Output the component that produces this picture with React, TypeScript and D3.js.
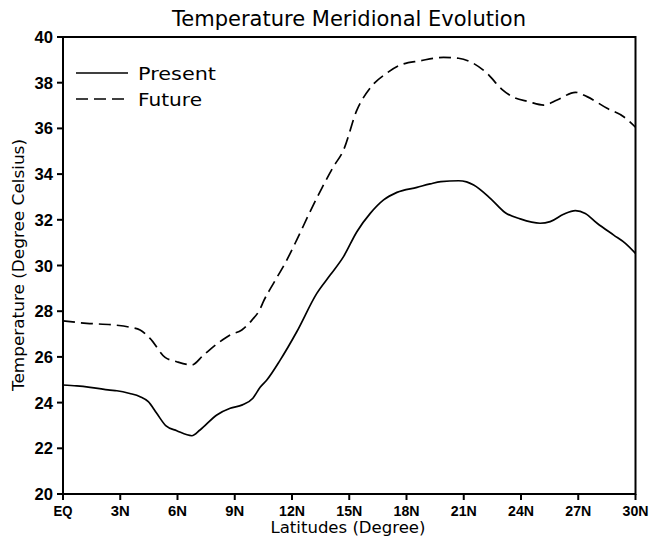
import React from "react";
import * as d3 from "d3";

const presentLat = [0, 0.72, 1.42, 2.46, 2.82, 3.5, 4.04, 4.47, 4.91, 5.4, 5.96, 6.75, 7.18, 8.06, 8.76, 9.4, 9.95, 10.33, 10.68, 11.38, 12.25, 13.3, 14.0, 14.7, 15.4, 16.1, 16.8, 17.5, 18.55, 19.24, 19.8, 20.73, 21.15, 21.52, 22.39, 23.18, 23.96, 25.0, 25.53, 26.23, 26.85, 27.37, 27.99, 28.86, 29.47, 30];
const presentT = [24.77, 24.73, 24.67, 24.55, 24.52, 24.4, 24.26, 24.04, 23.53, 22.98, 22.77, 22.55, 22.8, 23.46, 23.75, 23.9, 24.19, 24.67, 24.99, 25.86, 27.1, 28.78, 29.58, 30.39, 31.48, 32.28, 32.87, 33.2, 33.42, 33.57, 33.67, 33.71, 33.66, 33.52, 32.94, 32.31, 32.04, 31.85, 31.92, 32.24, 32.4, 32.28, 31.85, 31.33, 30.97, 30.53];

const futureLat = [0, 1.24, 2.64, 3.5, 4.04, 4.56, 5.35, 5.96, 6.75, 7.36, 8.23, 8.76, 9.37, 9.9, 10.33, 10.5, 11.03, 11.64, 12.25, 12.95, 13.56, 14.17, 14.7, 15.4, 16.1, 16.97, 17.67, 18.72, 19.94, 20.73, 21.43, 22.22, 23.0, 23.61, 24.4, 25.19, 25.89, 26.85, 27.46, 28.51, 29.38, 30];
const futureT = [27.58, 27.47, 27.4, 27.3, 27.18, 26.81, 25.98, 25.79, 25.65, 26.08, 26.67, 26.96, 27.18, 27.61, 28.1, 28.42, 29.22, 30.1, 31.12, 32.36, 33.38, 34.32, 35.05, 36.8, 37.77, 38.42, 38.77, 38.96, 39.11, 39.07, 38.88, 38.41, 37.71, 37.36, 37.17, 37.02, 37.24, 37.58, 37.39, 36.88, 36.51, 36.05];

const xTickValues = [0, 3, 6, 9, 12, 15, 18, 21, 24, 27, 30];
const xTickLabels = ["EQ", "3N", "6N", "9N", "12N", "15N", "18N", "21N", "24N", "27N", "30N"];
const yTickValues = [20, 22, 24, 26, 28, 30, 32, 34, 36, 38, 40];

const seriesNames = ["Present", "Future"];
const titleText = "Temperature Meridional Evolution";
const xLabel = "Latitudes (Degree)";
const yLabel = "Temperature (Degree Celsius)";

const W = 651, H = 540;
const M = { left: 63, right: 635.5, top: 37, bottom: 494 };

const thinFont = "'DejaVu Sans', 'Liberation Sans', sans-serif";
const tickFont = "'Liberation Sans', 'DejaVu Sans', sans-serif";

export default function App() {
  const x = d3.scaleLinear().domain([0, 30]).range([M.left, M.right]);
  const y = d3.scaleLinear().domain([20, 40]).range([M.bottom, M.top]);
  const line = d3
    .line<[number, number]>()
    .x((d) => x(d[0]))
    .y((d) => y(d[1]))
    .curve(d3.curveMonotoneX);
  const present = line(presentLat.map((l, i) => [l, presentT[i]] as [number, number])) || "";
  const future = line(futureLat.map((l, i) => [l, futureT[i]] as [number, number])) || "";

  return (
    <svg width={W} height={H} style={{ position: "absolute", left: 0, top: 0, background: "#fff" }}>
      <rect x={0} y={0} width={W} height={H} fill="#fff" />
      <text x={349} y={26} textAnchor="middle" fontFamily={thinFont} fontSize={21} textLength={354} lengthAdjust="spacingAndGlyphs" fill="#000">
        {titleText}
      </text>
      {/* data */}
      <path d={present} fill="none" stroke="#000" strokeWidth={1.7} />
      <path d={future} fill="none" stroke="#000" strokeWidth={1.7} strokeDasharray="12,6" />
      {/* frame */}
      <rect x={M.left} y={M.top} width={M.right - M.left} height={M.bottom - M.top} fill="none" stroke="#000" strokeWidth={2} />
      {/* y ticks */}
      {yTickValues.map((v) => (
        <g key={"y" + v}>
          <line x1={M.left - 6} x2={M.left} y1={y(v)} y2={y(v)} stroke="#000" strokeWidth={2} />
          <text x={53} y={y(v) + 6} textAnchor="end" fontFamily={tickFont} fontWeight="bold" fontSize={16} textLength={18.5} lengthAdjust="spacingAndGlyphs" fill="#000">
            {v}
          </text>
        </g>
      ))}
      {/* x ticks */}
      {xTickValues.map((v, i) => (
        <g key={"x" + v}>
          <line x1={x(v)} x2={x(v)} y1={M.bottom} y2={M.bottom + 6} stroke="#000" strokeWidth={2} />
          <text x={x(v)} y={M.bottom + 21.5} textAnchor="middle" fontFamily={tickFont} fontWeight="bold" fontSize={15} textLength={xTickLabels[i].length === 3 ? 26 : 19} lengthAdjust="spacingAndGlyphs" fill="#000">
            {xTickLabels[i]}
          </text>
        </g>
      ))}
      <text x={348} y={533} textAnchor="middle" fontFamily={thinFont} fontSize={15} textLength={155} lengthAdjust="spacingAndGlyphs" fill="#000">
        {xLabel}
      </text>
      <text transform={`translate(24,265) rotate(-90)`} textAnchor="middle" fontFamily={thinFont} fontSize={16} textLength={252} lengthAdjust="spacingAndGlyphs" fill="#000">
        {yLabel}
      </text>
      {/* legend */}
      <line x1={76} x2={128} y1={73} y2={73} stroke="#000" strokeWidth={1.7} />
      <text x={138} y={80} fontFamily={thinFont} fontSize={18} textLength={78} lengthAdjust="spacingAndGlyphs" fill="#000">
        {seriesNames[0]}
      </text>
      <line x1={76} x2={128} y1={99} y2={99} stroke="#000" strokeWidth={1.7} strokeDasharray="12,6" />
      <text x={138} y={106} fontFamily={thinFont} fontSize={18} textLength={64} lengthAdjust="spacingAndGlyphs" fill="#000">
        {seriesNames[1]}
      </text>
    </svg>
  );
}
